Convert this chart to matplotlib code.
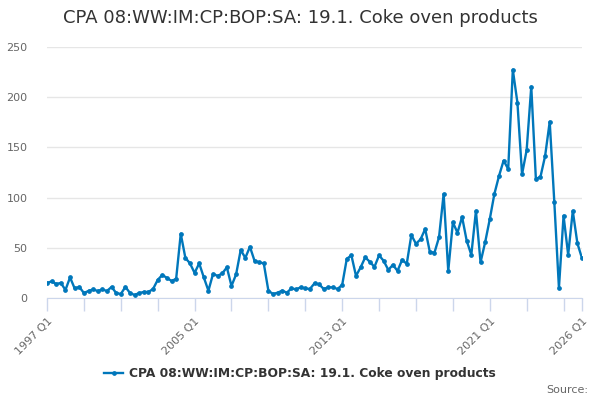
import matplotlib
matplotlib.use("Agg")
import matplotlib.pyplot as plt
from matplotlib.lines import Line2D

title = "CPA 08:WW:IM:CP:BOP:SA: 19.1. Coke oven products"
start_year = 1997
values = [15, 16.5, 14, 15, 8, 20.5, 9.5, 11, 5, 7, 8.5, 7, 8.5, 7, 11, 5,
          4, 11, 5, 3, 5, 6, 6, 9, 18, 23, 20, 17, 19, 64, 40, 34.5,
          25, 34.5, 20.5, 7.3, 24, 22, 24.5, 30.5, 12, 23.5, 47.8, 40, 51, 37, 35.5, 34.5,
          7.3, 4, 5.3, 7.3, 5.3, 9.6, 8.6, 10.6, 9.5, 9, 14.6, 13.6, 9, 10.6, 10.6, 9,
          13, 39, 42.5, 22, 30.5, 40.5, 36, 31, 42.5, 37, 28, 33, 27, 38, 34, 62.7,
          54, 58.5, 68.7, 46, 45, 60.5, 103.6, 27, 75.4, 65, 80.7, 57, 43, 86.7, 35.5, 55.5,
          78.4, 103.6, 121.5, 136.8, 128.5, 227.4, 194.5, 123.2, 147.4, 210.5, 118.5, 120.8, 141.4, 175.6, 95.3, 10,
          82, 43, 86.7, 54.5, 39.5]
labels = [f"{start_year + i // 4} Q{i % 4 + 1}" for i in range(len(values))]
x = list(range(len(values)))
y_ticks = [0, 50, 100, 150, 200, 250]

color = "#0077bb"
fig = plt.figure(figsize=(6, 4), dpi=100)
ax = fig.add_axes([47 / 600, 1 - 298 / 400, (582 - 47) / 600, (298 - 47) / 400])
ax.plot(x, values, color=color, lw=1.7, marker="o", ms=2.4, zorder=3)
ax.set_xlim(0, len(values) - 1)
ax.set_ylim(0, 250)
ax.set_yticks(y_ticks)
ax.grid(axis="y", color="#e6e6e6", lw=1)
ax.set_axisbelow(True)
for s in ["top", "right", "left"]:
    ax.spines[s].set_visible(False)
ax.spines["bottom"].set_color("#ccd6eb")
ax.tick_params(axis="y", length=0, labelsize=8, labelcolor="#666666", pad=14)

minor = list(range(0, len(values), 8))
ax.set_xticks(minor, minor=True)
ax.tick_params(axis="x", which="minor", length=9, color="#ccd6eb", width=1)
major_idx = [0, 32, 64, 96, len(values) - 1]
ax.set_xticks(major_idx)
ax.set_xticklabels([labels[i] for i in major_idx], rotation=45, ha="right",
                   rotation_mode="anchor", fontsize=8, color="#666666")
ax.tick_params(axis="x", which="major", length=9, color="#ccd6eb", width=1, pad=4)

fig.text(0.5, 1 - 18 / 400, title, ha="center", va="center", fontsize=13, color="#333333")

handle = Line2D([], [], color=color, lw=1.7, marker="o", ms=2.4)
fig.legend([handle], [title], loc="center", bbox_to_anchor=(0.5, 1 - 374 / 400),
           frameon=False, prop={"weight": "bold", "size": 8.8}, handlelength=1.6,
           handletextpad=0.5, labelcolor="#333333")
fig.text(588 / 600, 1 - 390 / 400, "Source:", ha="right", va="center", fontsize=8, color="#666666")

fig.savefig("out.png", dpi=100)
